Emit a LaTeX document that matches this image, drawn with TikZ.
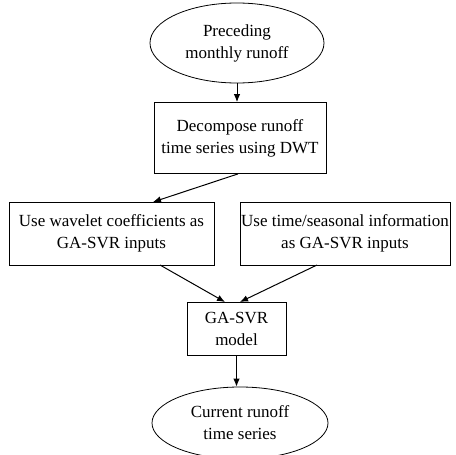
\documentclass[tikz,border=0pt]{standalone}
\usepackage{fontspec}
\setmainfont{Liberation Serif}
\usetikzlibrary{shapes.geometric,arrows.meta}
\begin{document}
\begin{tikzpicture}[x=1pt,y=-1pt,
  every node/.style={font=\fontsize{17}{22}\selectfont, align=center, inner sep=0pt},
  oval/.style={draw, ellipse, line width=0.8pt},
  box/.style={draw, rectangle, line width=0.8pt},
  conn/.style={line width=1pt, -{Latex[length=8pt,width=6.5pt]}}]
\useasboundingbox (0,0) rectangle (456,455);
\node[oval, minimum width=174pt, minimum height=80pt] (pre) at (237,43) {Preceding\\monthly runoff};
\node[box, minimum width=172pt, minimum height=71pt] (dec) at (240,138) {Decompose runoff\\time series using DWT};
\node[box, minimum width=205pt, minimum height=63pt] (wav) at (111.5,233.5) {Use wavelet coefficients as\\GA-SVR inputs};
\node[box, minimum width=210pt, minimum height=63pt] (tim) at (345,233.5) {Use time/seasonal information\\as GA-SVR inputs};
\node[box, minimum width=99pt, minimum height=53pt] (ga) at (236.5,328.5) {GA-SVR\\model};
\node[oval, minimum width=176pt, minimum height=72pt] (cur) at (240,423) {Current runoff\\time series};
\draw[conn] (pre.south) -- (dec.north -| pre.south);
\draw[conn] (dec.south -| 238,0) -- (153,202);
\draw[conn] (160,265) -- (225,302);
\draw[conn] (317,265) -- (240,302);
\draw[conn] (ga.south) -- (cur.north -| ga.south);
\end{tikzpicture}
\end{document}
